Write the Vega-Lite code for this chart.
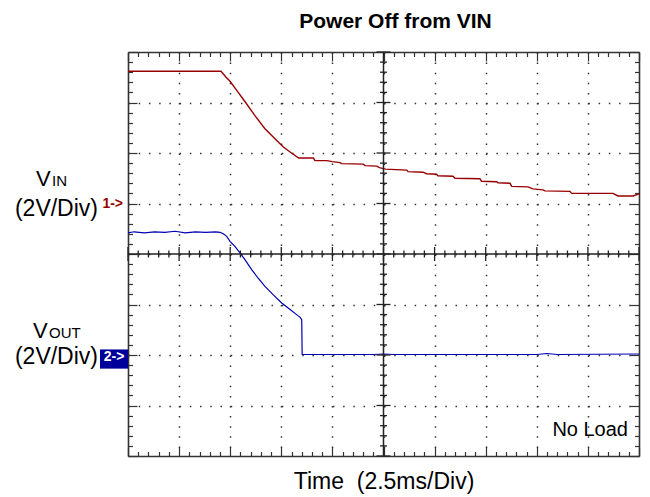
{
  "$schema": "https://vega.github.io/schema/vega-lite/v6.json",
  "width": 511,
  "height": 404,
  "autosize": {"type": "none"},
  "padding": {"left": 128, "top": 52, "right": 11, "bottom": 41},
  "background": "white",
  "config": {"view": {"stroke": null}, "font": "Liberation Sans"},
  "title": {"text": "Power Off from VIN", "fontSize": 21, "fontWeight": "bold", "font": "Liberation Sans", "color": "black", "anchor": "middle", "frame": "group", "offset": 19, "dx": 12},
  "datasets": {
    "vin": [
      {"t": 0, "v": 7.62}, {"t": 2.45, "v": 7.62}, {"t": 4.55, "v": 7.62}, {"t": 4.8, "v": 7.5}, {"t": 4.99, "v": 7.42},
      {"t": 5.32, "v": 7.24}, {"t": 5.72, "v": 7.02}, {"t": 6.21, "v": 6.74}, {"t": 6.7, "v": 6.48},
      {"t": 7.19, "v": 6.28}, {"t": 7.6, "v": 6.12}, {"t": 7.93, "v": 6.02}, {"t": 8.35, "v": 5.9},
      {"t": 8.5, "v": 5.9}, {"t": 9.07, "v": 5.9}, {"t": 9.15, "v": 5.85}, {"t": 9.72, "v": 5.85},
      {"t": 10.0, "v": 5.83}, {"t": 10.37, "v": 5.81}, {"t": 10.45, "v": 5.79}, {"t": 11.51, "v": 5.78},
      {"t": 11.6, "v": 5.75}, {"t": 12.17, "v": 5.74}, {"t": 12.3, "v": 5.71}, {"t": 12.6, "v": 5.68},
      {"t": 13.64, "v": 5.66}, {"t": 13.7, "v": 5.63}, {"t": 14.43, "v": 5.62}, {"t": 14.61, "v": 5.59},
      {"t": 15.1, "v": 5.58}, {"t": 15.16, "v": 5.55}, {"t": 15.9, "v": 5.54}, {"t": 16.0, "v": 5.5},
      {"t": 17.22, "v": 5.49}, {"t": 17.3, "v": 5.44}, {"t": 18.04, "v": 5.43}, {"t": 18.1, "v": 5.41},
      {"t": 18.69, "v": 5.4}, {"t": 18.77, "v": 5.34}, {"t": 19.57, "v": 5.33}, {"t": 19.81, "v": 5.29},
      {"t": 20.3, "v": 5.27}, {"t": 20.4, "v": 5.25}, {"t": 21.62, "v": 5.24}, {"t": 21.71, "v": 5.2},
      {"t": 23.73, "v": 5.2}, {"t": 23.97, "v": 5.15}, {"t": 24.71, "v": 5.15}, {"t": 25, "v": 5.19}
    ],
    "vout": [
      {"t": 0, "v": 4.42}, {"t": 0.3, "v": 4.44}, {"t": 0.8, "v": 4.42}, {"t": 1.3, "v": 4.44},
      {"t": 1.8, "v": 4.43}, {"t": 2.3, "v": 4.45}, {"t": 2.8, "v": 4.42}, {"t": 3.3, "v": 4.44},
      {"t": 3.8, "v": 4.43}, {"t": 4.3, "v": 4.44}, {"t": 4.5, "v": 4.43}, {"t": 4.66, "v": 4.4},
      {"t": 4.83, "v": 4.35}, {"t": 4.99, "v": 4.25}, {"t": 5.23, "v": 4.15}, {"t": 5.48, "v": 4.02},
      {"t": 5.72, "v": 3.89}, {"t": 6.05, "v": 3.69}, {"t": 6.37, "v": 3.52}, {"t": 6.7, "v": 3.36},
      {"t": 7.11, "v": 3.19}, {"t": 7.52, "v": 3.03}, {"t": 7.93, "v": 2.9}, {"t": 8.25, "v": 2.8},
      {"t": 8.41, "v": 2.75}, {"t": 8.5, "v": 2.7}, {"t": 8.52, "v": 2.01}, {"t": 12.0, "v": 2.01},
      {"t": 12.5, "v": 2.02}, {"t": 13.0, "v": 2.01}, {"t": 20.0, "v": 2.01}, {"t": 20.5, "v": 2.03},
      {"t": 21.0, "v": 2.01}, {"t": 25, "v": 2.02}
    ],
    "xticks": [
      {"t": 0}, {"t": 0.5}, {"t": 1}, {"t": 1.5}, {"t": 2}, {"t": 2.5}, {"t": 3}, {"t": 3.5}, {"t": 4}, {"t": 4.5},
      {"t": 5}, {"t": 5.5}, {"t": 6}, {"t": 6.5}, {"t": 7}, {"t": 7.5}, {"t": 8}, {"t": 8.5}, {"t": 9}, {"t": 9.5},
      {"t": 10}, {"t": 10.5}, {"t": 11}, {"t": 11.5}, {"t": 12}, {"t": 12.5}, {"t": 13}, {"t": 13.5}, {"t": 14}, {"t": 14.5},
      {"t": 15}, {"t": 15.5}, {"t": 16}, {"t": 16.5}, {"t": 17}, {"t": 17.5}, {"t": 18}, {"t": 18.5}, {"t": 19}, {"t": 19.5},
      {"t": 20}, {"t": 20.5}, {"t": 21}, {"t": 21.5}, {"t": 22}, {"t": 22.5}, {"t": 23}, {"t": 23.5}, {"t": 24}, {"t": 24.5}, {"t": 25}
    ],
    "yticks": [
      {"d": 0}, {"d": 0.2}, {"d": 0.4}, {"d": 0.6}, {"d": 0.8}, {"d": 1}, {"d": 1.2}, {"d": 1.4}, {"d": 1.6}, {"d": 1.8},
      {"d": 2}, {"d": 2.2}, {"d": 2.4}, {"d": 2.6}, {"d": 2.8}, {"d": 3}, {"d": 3.2}, {"d": 3.4}, {"d": 3.6}, {"d": 3.8},
      {"d": 4}, {"d": 4.2}, {"d": 4.4}, {"d": 4.6}, {"d": 4.8}, {"d": 5}, {"d": 5.2}, {"d": 5.4}, {"d": 5.6}, {"d": 5.8},
      {"d": 6}, {"d": 6.2}, {"d": 6.4}, {"d": 6.6}, {"d": 6.8}, {"d": 7}, {"d": 7.2}, {"d": 7.4}, {"d": 7.6}, {"d": 7.8}, {"d": 8}
    ]
  },
  "layer": [
    {
      "data": {"name": "vin"},
      "mark": {"type": "line", "color": "#990000", "strokeWidth": 1.4, "interpolate": "linear"},
      "encoding": {
        "x": {"field": "t", "type": "quantitative", "scale": {"domain": [0, 25], "nice": false, "zero": false},
          "axis": {"orient": "bottom", "values": [0,0.5,1,1.5,2,2.5,3,3.5,4,4.5,5,5.5,6,6.5,7,7.5,8,8.5,9,9.5,10,10.5,11,11.5,12,12.5,13,13.5,14,14.5,15,15.5,16,16.5,17,17.5,18,18.5,19,19.5,20,20.5,21,21.5,22,22.5,23,23.5,24,24.5,25],
            "labels": false, "domainColor": "#333", "domainWidth": 1.6, "tickColor": "#333", "tickWidth": 1.2,
            "tickSize": {"condition": {"test": "datum.value % 2.5 === 0", "value": -9}, "value": -4.5},
            "grid": true, "gridColor": "#333", "gridWidth": 1.5, "gridDash": [1.5, 8.6],
            "gridOpacity": {"condition": {"test": "datum.value % 2.5 === 0 && datum.value > 0 && datum.value < 25", "value": 1}, "value": 0},
            "title": "Time\u00a0 (2.5ms/Div)", "titleFont": "Liberation Sans", "titleFontSize": 23, "titleFontWeight": "normal", "titleColor": "black", "titlePadding": 14}},
        "y": {"field": "v", "type": "quantitative", "scale": {"domain": [0, 8], "nice": false, "zero": false},
          "axis": {"orient": "left", "values": [0,0.2,0.4,0.6,0.8,1,1.2,1.4,1.6,1.8,2,2.2,2.4,2.6,2.8,3,3.2,3.4,3.6,3.8,4,4.2,4.4,4.6,4.8,5,5.2,5.4,5.6,5.8,6,6.2,6.4,6.6,6.8,7,7.2,7.4,7.6,7.8,8],
            "labels": false, "domainColor": "#333", "domainWidth": 1.6, "tickColor": "#333", "tickWidth": 1.2,
            "tickSize": {"condition": {"test": "datum.value % 1 === 0", "value": -9}, "value": -4.5},
            "grid": true, "gridColor": "#333", "gridWidth": 1.5, "gridDash": [1.5, 8.72],
            "gridOpacity": {"condition": {"test": "datum.value % 1 === 0 && datum.value > 0 && datum.value < 8", "value": 1}, "value": 0},
            "title": null}}
      }
    },
    {
      "data": {"name": "vout"},
      "mark": {"type": "line", "color": "#0000b4", "strokeWidth": 1.2, "interpolate": "linear"},
      "encoding": {
        "x": {"field": "t", "type": "quantitative",
          "axis": {"orient": "top", "values": [0,0.5,1,1.5,2,2.5,3,3.5,4,4.5,5,5.5,6,6.5,7,7.5,8,8.5,9,9.5,10,10.5,11,11.5,12,12.5,13,13.5,14,14.5,15,15.5,16,16.5,17,17.5,18,18.5,19,19.5,20,20.5,21,21.5,22,22.5,23,23.5,24,24.5,25],
            "labels": false, "domainColor": "#333", "domainWidth": 1.6, "tickColor": "#333", "tickWidth": 1.2,
            "tickSize": {"condition": {"test": "datum.value % 2.5 === 0", "value": -9}, "value": -4.5},
            "grid": false, "title": null}},
        "y": {"field": "v", "type": "quantitative",
          "axis": {"orient": "right", "values": [0,0.2,0.4,0.6,0.8,1,1.2,1.4,1.6,1.8,2,2.2,2.4,2.6,2.8,3,3.2,3.4,3.6,3.8,4,4.2,4.4,4.6,4.8,5,5.2,5.4,5.6,5.8,6,6.2,6.4,6.6,6.8,7,7.2,7.4,7.6,7.8,8],
            "labels": false, "domainColor": "#333", "domainWidth": 1.6, "tickColor": "#333", "tickWidth": 1.2,
            "tickSize": {"condition": {"test": "datum.value % 1 === 0", "value": -9}, "value": -4.5},
            "grid": false, "title": null}}
      }
    },
    {
      "data": {"values": [{"t": 12.5}]},
      "mark": {"type": "rule", "color": "#222", "strokeWidth": 1.5},
      "encoding": {"x": {"field": "t", "type": "quantitative", "axis": null}}
    },
    {
      "data": {"values": [{"d": 4}]},
      "mark": {"type": "rule", "color": "#222", "strokeWidth": 1.5},
      "encoding": {"y": {"field": "d", "type": "quantitative", "axis": null}}
    },
    {
      "data": {"name": "xticks"},
      "mark": {"type": "tick", "orient": "vertical", "color": "#222", "thickness": 1.3, "opacity": 1},
      "encoding": {
        "x": {"field": "t", "type": "quantitative", "axis": null},
        "y": {"datum": 4, "type": "quantitative", "axis": null},
        "size": {"condition": {"test": "datum.t % 2.5 === 0", "value": 14}, "value": 7}
      }
    },
    {
      "data": {"name": "yticks"},
      "mark": {"type": "tick", "orient": "horizontal", "color": "#222", "thickness": 1.3, "opacity": 1},
      "encoding": {
        "x": {"datum": 12.5, "type": "quantitative", "axis": null},
        "y": {"field": "d", "type": "quantitative", "axis": null},
        "size": {"condition": {"test": "datum.d % 1 === 0", "value": 14}, "value": 7}
      }
    },
    {
      "data": {"values": [{}]},
      "mark": {"type": "text", "text": "V", "align": "left", "baseline": "alphabetic", "dx": -92, "dy": -18, "fontSize": 22, "color": "black"},
      "encoding": {"x": {"datum": 0, "type": "quantitative", "axis": null}, "y": {"datum": 5, "type": "quantitative", "axis": null}}
    },
    {
      "data": {"values": [{}]},
      "mark": {"type": "text", "text": "IN", "align": "left", "baseline": "alphabetic", "dx": -76, "dy": -18, "fontSize": 15, "color": "black"},
      "encoding": {"x": {"datum": 0, "type": "quantitative", "axis": null}, "y": {"datum": 5, "type": "quantitative", "axis": null}}
    },
    {
      "data": {"values": [{}]},
      "mark": {"type": "text", "text": "(2V/Div)", "align": "right", "baseline": "alphabetic", "dx": -30, "dy": 12, "fontSize": 23, "color": "black"},
      "encoding": {"x": {"datum": 0, "type": "quantitative", "axis": null}, "y": {"datum": 5, "type": "quantitative", "axis": null}}
    },
    {
      "data": {"values": [{}]},
      "mark": {"type": "text", "text": "1->", "align": "right", "baseline": "middle", "dx": -5, "dy": 0, "fontSize": 14, "fontWeight": "bold", "color": "#990000"},
      "encoding": {"x": {"datum": 0, "type": "quantitative", "axis": null}, "y": {"datum": 5, "type": "quantitative", "axis": null}}
    },
    {
      "data": {"values": [{}]},
      "mark": {"type": "text", "text": "V", "align": "left", "baseline": "alphabetic", "dx": -95, "dy": -17, "fontSize": 22, "color": "black"},
      "encoding": {"x": {"datum": 0, "type": "quantitative", "axis": null}, "y": {"datum": 2, "type": "quantitative", "axis": null}}
    },
    {
      "data": {"values": [{}]},
      "mark": {"type": "text", "text": "OUT", "align": "left", "baseline": "alphabetic", "dx": -79, "dy": -17, "fontSize": 15, "color": "black"},
      "encoding": {"x": {"datum": 0, "type": "quantitative", "axis": null}, "y": {"datum": 2, "type": "quantitative", "axis": null}}
    },
    {
      "data": {"values": [{}]},
      "mark": {"type": "text", "text": "(2V/Div)", "align": "right", "baseline": "alphabetic", "dx": -30, "dy": 9, "fontSize": 23, "color": "black"},
      "encoding": {"x": {"datum": 0, "type": "quantitative", "axis": null}, "y": {"datum": 2, "type": "quantitative", "axis": null}}
    },
    {
      "data": {"values": [{}]},
      "mark": {"type": "rect", "color": "#00009a"},
      "encoding": {
        "x": {"datum": -1.37, "type": "quantitative", "axis": null}, "x2": {"datum": 0},
        "y": {"datum": 1.73, "type": "quantitative", "axis": null}, "y2": {"datum": 2.11}
      }
    },
    {
      "data": {"values": [{}]},
      "mark": {"type": "text", "text": "2->", "align": "center", "baseline": "middle", "dx": -14, "dy": 2, "fontSize": 14, "fontWeight": "bold", "color": "white"},
      "encoding": {"x": {"datum": 0, "type": "quantitative", "axis": null}, "y": {"datum": 2, "type": "quantitative", "axis": null}}
    },
    {
      "data": {"values": [{}]},
      "mark": {"type": "text", "text": "No Load", "align": "right", "baseline": "alphabetic", "dx": -11, "dy": -20, "fontSize": 20, "color": "black"},
      "encoding": {"x": {"datum": 25, "type": "quantitative", "axis": null}, "y": {"datum": 0, "type": "quantitative", "axis": null}}
    }
  ],
  "resolve": {"axis": {"x": "independent", "y": "independent"}}
}
